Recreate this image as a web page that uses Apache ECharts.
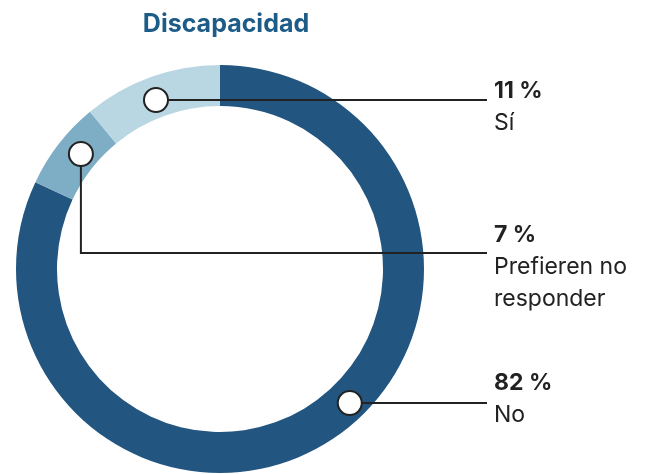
<!DOCTYPE html>
<html>
<head>
<meta charset="utf-8">
<script src="https://cdn.jsdelivr.net/npm/echarts@6/dist/echarts.min.js"></script>
<style>html,body{margin:0;padding:0;background:#fff;}#c{width:657px;height:474px;}</style>
</head>
<body>
<div id="c"></div>
<script>
// ---- data ----
const categories = ['No', 'Prefieren no responder', 'Sí'];
const values = [82, 7, 11];
const valueLabels = ['82 %', '7 %', '11 %'];
const nameLines = [['No'], ['Prefieren no', 'responder'], ['Sí']];
const colors = ['#22557f', '#7eadc6', '#b9d6e3'];

// ---- layout ----
const CX = 220, CY = 269, R_IN = 163, R_OUT = 204;
const markerR = [186.5, 180.5, 180.7];      // radial position of each marker
const markerAlong = [0.4604, 0.571, 0.476];  // position of marker within its slice
const labelX = 494, lineEndX = 487;
const labelTop = [367, 219, 75];
const elbowY = [null, 253, null];

const FONT = 'Inter, "Open Sans", sans-serif';

// marker angle (percent of full turn) computed from cumulative data
const total = values.reduce((a, b) => a + b, 0);
let cum = 0;
const markerPct = values.map((v, i) => {
  const p = (cum + v * markerAlong[i]) / total * 100;
  cum += v;
  return p;
});

const chart = echarts.init(document.getElementById('c'));

const option = {
  animation: false,
  title: {
    text: 'Discapacidad',
    left: CX + 1, top: 7, textAlign: 'center',
    textStyle: { fontFamily: FONT, fontWeight: 'bold', fontSize: 25, color: '#1d5b88' }
  },
  polar: { center: [CX, CY], radius: R_OUT },
  angleAxis: { type: 'value', min: 0, max: 100, startAngle: 90, clockwise: true, show: false },
  radiusAxis: { type: 'value', min: 0, max: R_OUT, show: false },
  series: [
    {
      id: 'ring',
      type: 'pie',
      center: [CX, CY],
      radius: [R_IN, R_OUT],
      startAngle: 90,
      clockwise: true,
      silent: true,
      avoidLabelOverlap: false,
      z: 2,
      itemStyle: { borderWidth: 0 },
      data: categories.map((c, i) => ({ name: c, value: values[i], itemStyle: { color: colors[i] } })),
      label: {
        show: true,
        overflow: 'none',
        width: 200,
        formatter: p => '{v|' + valueLabels[p.dataIndex] + '}\n' +
          nameLines[p.dataIndex].map(s => '{n|' + s + '}').join('\n'),
        rich: {
          v: { fontFamily: FONT, fontWeight: 'bold', fontSize: 23, lineHeight: 32, color: '#222222' },
          n: { fontFamily: FONT, fontWeight: 'normal', fontSize: 23, lineHeight: 32, color: '#222222' }
        }
      },
      labelLine: { show: false },
      labelLayout: function (params) {
        return { x: labelX, y: labelTop[params.dataIndex], align: 'left', verticalAlign: 'top' };
      }
    },
    {
      id: 'markers',
      type: 'custom',
      coordinateSystem: 'polar',
      z: 10,
      silent: true,
      data: markerPct.map((p, i) => [markerR[i], p, i]),
      renderItem: function (params, api) {
        const i = api.value(2);
        const m = api.coord([api.value(0), api.value(1)]);
        let pts;
        if (elbowY[i] != null) {
          pts = [[m[0], m[1]], [m[0], elbowY[i]], [lineEndX, elbowY[i]]];
        } else {
          pts = [[m[0], m[1]], [lineEndX, m[1]]];
        }
        return {
          type: 'group',
          children: [
            { type: 'polyline', shape: { points: pts },
              style: { stroke: '#222222', lineWidth: 2, fill: null } },
            { type: 'circle', shape: { cx: m[0], cy: m[1], r: 12 },
              style: { fill: '#ffffff', stroke: '#222222', lineWidth: 2 } }
          ]
        };
      }
    }
  ]
};
chart.setOption(option);
</script>
</body>
</html>
